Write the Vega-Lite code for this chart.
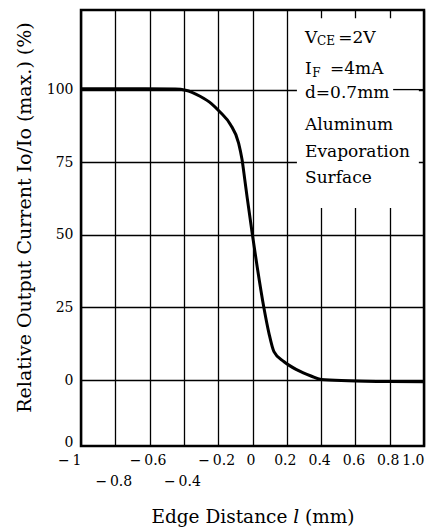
{
  "$schema": "https://vega.github.io/schema/vega-lite/v6.json",
  "width": 343,
  "height": 436,
  "autosize": {"type": "none"},
  "padding": {"left": 81, "top": 10, "right": 9, "bottom": 84},
  "background": "white",
  "config": {
    "view": {"stroke": "black", "strokeWidth": 2.5},
    "font": "DejaVu Serif",
    "text": {"font": "DejaVu Serif", "fontSize": 17, "align": "left", "baseline": "alphabetic", "color": "black"}
  },
  "datasets": {
    "curve": [
      {"d": -1.0, "r": 100.3},
      {"d": -0.7, "r": 100.3},
      {"d": -0.45, "r": 100.2},
      {"d": -0.39, "r": 99.8},
      {"d": -0.306, "r": 97.7},
      {"d": -0.24, "r": 95.2},
      {"d": -0.188, "r": 92.2},
      {"d": -0.129, "r": 88.0},
      {"d": -0.081, "r": 81.6},
      {"d": -0.061, "r": 75.9},
      {"d": -0.045, "r": 69.0},
      {"d": -0.031, "r": 62.8},
      {"d": -0.002, "r": 50.6},
      {"d": 0.027, "r": 39.1},
      {"d": 0.067, "r": 24.7},
      {"d": 0.096, "r": 16.1},
      {"d": 0.125, "r": 9.8},
      {"d": 0.184, "r": 6.3},
      {"d": 0.263, "r": 3.4},
      {"d": 0.341, "r": 1.4},
      {"d": 0.4, "r": 0.2},
      {"d": 0.557, "r": -0.2},
      {"d": 0.8, "r": -0.5},
      {"d": 1.0, "r": -0.6}
    ],
    "one": [{}]
  },
  "layer": [
    {
      "data": {"name": "curve"},
      "mark": {"type": "line", "color": "black", "strokeWidth": 3, "interpolate": "monotone"},
      "encoding": {
        "x": {
          "field": "d", "type": "quantitative",
          "scale": {"domain": [-1, 1], "nice": false, "zero": false},
          "axis": {
            "title": "Edge Distance 𝑙 (mm)",
            "titleFont": "DejaVu Serif", "titleFontSize": 18.5, "titleFontWeight": "normal", "titleColor": "black",
            "titleBaseline": "alphabetic", "titleY": 76,
            "values": [-1, -0.8, -0.6, -0.4, -0.2, 0, 0.2, 0.4, 0.6, 0.8, 1],
            "tickCount": 30,
            "labelExpr": "datum.value == 1 ? '1.0' : datum.value < 0 ? '\u2212\u2009' + format(-datum.value, '~g') : format(datum.value, '~g')",
            "labelFont": "DejaVu Serif", "labelFontSize": 14, "labelColor": "black",
            "labelFlush": false, "labelOverlap": false, "labelBaseline": "top",
            "labelPadding": {"condition": {"test": "(datum.value < -0.7 && datum.value > -0.9) || (datum.value < -0.3 && datum.value > -0.5)", "value": 28}, "value": 7},
            "labelAlign": {"condition": {"test": "abs(datum.value) > 0.95", "value": "right"}, "value": "center"},
            "labelOffset": {"condition": {"test": "abs(datum.value) > 0.95", "value": 0}, "value": -2},
            "grid": true, "gridColor": "black", "gridWidth": 1.3, "gridOpacity": 1,
            "ticks": false, "domain": false
          }
        },
        "y": {
          "field": "r", "type": "quantitative",
          "scale": {"domain": [-22.7, 127.4], "nice": false, "zero": false},
          "axis": {
            "title": "Relative Output Current Io/Io (max.) (%)",
            "titleFont": "DejaVu Serif", "titleFontSize": 19, "titleFontWeight": "normal", "titleColor": "black",
            "titleAngle": -90, "titleBaseline": "middle", "titleX": -57, "titleY": 207, "titleAlign": "center",
            "values": [-21.4, 0, 25, 50, 75, 100],
            "tickCount": 30,
            "labelExpr": "datum.value < -1 ? '0' : format(datum.value, '~g')",
            "labelFont": "DejaVu Serif", "labelFontSize": 14, "labelColor": "black",
            "labelPadding": 8, "labelOverlap": false, "labelFlush": false,
            "grid": true, "gridColor": "black", "gridWidth": 1.3,
            "gridOpacity": {"condition": {"test": "datum.value < -1", "value": 0}, "value": 1},
            "ticks": false, "domain": false
          }
        }
      }
    },
    {
      "data": {"name": "one"},
      "mark": {"type": "rect", "color": "white"},
      "encoding": {
        "x": {"datum": 0.259, "type": "quantitative"},
        "x2": {"datum": 0.97},
        "y": {"datum": 59.2, "type": "quantitative"},
        "y2": {"datum": 124.6}
      }
    },
    {
      "data": {"name": "one"},
      "mark": {"type": "rule", "color": "black", "strokeWidth": 1.3},
      "encoding": {
        "x": {"datum": 0.82, "type": "quantitative"},
        "x2": {"datum": 1.0},
        "y": {"datum": 100, "type": "quantitative"}
      }
    },
    {"data": {"name": "one"}, "mark": {"type": "text"}, "encoding": {"x": {"datum": 0.306, "type": "quantitative"}, "y": {"datum": 116.0, "type": "quantitative"}, "text": {"value": "V"}}},
    {"data": {"name": "one"}, "mark": {"type": "text", "fontSize": 12}, "encoding": {"x": {"datum": 0.376, "type": "quantitative"}, "y": {"datum": 115.2, "type": "quantitative"}, "text": {"value": "CE"}}},
    {"data": {"name": "one"}, "mark": {"type": "text"}, "encoding": {"x": {"datum": 0.5, "type": "quantitative"}, "y": {"datum": 116.0, "type": "quantitative"}, "text": {"value": "=2V"}}},
    {"data": {"name": "one"}, "mark": {"type": "text"}, "encoding": {"x": {"datum": 0.306, "type": "quantitative"}, "y": {"datum": 105.3, "type": "quantitative"}, "text": {"value": "I"}}},
    {"data": {"name": "one"}, "mark": {"type": "text", "fontSize": 12}, "encoding": {"x": {"datum": 0.348, "type": "quantitative"}, "y": {"datum": 104.5, "type": "quantitative"}, "text": {"value": "F"}}},
    {"data": {"name": "one"}, "mark": {"type": "text"}, "encoding": {"x": {"datum": 0.452, "type": "quantitative"}, "y": {"datum": 105.3, "type": "quantitative"}, "text": {"value": "=4mA"}}},
    {"data": {"name": "one"}, "mark": {"type": "text"}, "encoding": {"x": {"datum": 0.306, "type": "quantitative"}, "y": {"datum": 97.1, "type": "quantitative"}, "text": {"value": "d=0.7mm"}}},
    {"data": {"name": "one"}, "mark": {"type": "text"}, "encoding": {"x": {"datum": 0.306, "type": "quantitative"}, "y": {"datum": 86.1, "type": "quantitative"}, "text": {"value": "Aluminum"}}},
    {"data": {"name": "one"}, "mark": {"type": "text"}, "encoding": {"x": {"datum": 0.306, "type": "quantitative"}, "y": {"datum": 76.9, "type": "quantitative"}, "text": {"value": "Evaporation"}}},
    {"data": {"name": "one"}, "mark": {"type": "text"}, "encoding": {"x": {"datum": 0.306, "type": "quantitative"}, "y": {"datum": 67.7, "type": "quantitative"}, "text": {"value": "Surface"}}}
  ]
}
